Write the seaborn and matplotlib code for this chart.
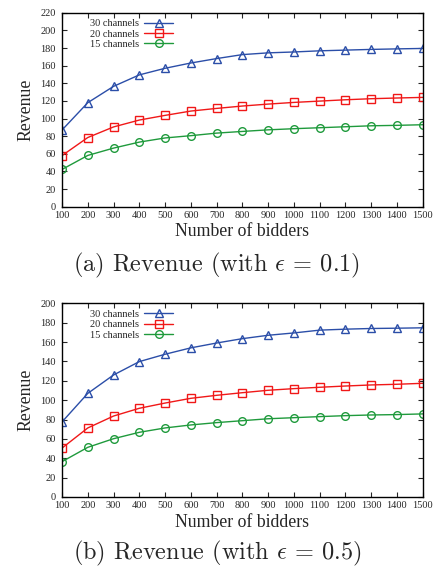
import numpy as np
import pandas as pd
import matplotlib
matplotlib.use('Agg')
import matplotlib.pyplot as plt
import seaborn as sns

# Datos
bidders = [100, 200, 300, 400, 500, 600, 700, 800, 900, 1000, 1100, 1200, 1300, 1400, 1500]

# (a) epsilon = 0.1
rev_a_30 = [87, 118, 136.5, 149.5, 157, 163, 168, 172.5, 174.5, 175.5, 176.8, 177.6, 178.4, 179, 179.5]
rev_a_20 = [58, 78.5, 90.5, 98.3, 103.6, 108.5, 111.5, 114.2, 116.4, 118.3, 119.8, 121.3, 122.5, 123.3, 124]
rev_a_15 = [42.3, 58.2, 66.5, 73.3, 78, 80.6, 83.5, 85.4, 87.2, 88.5, 89.6, 90.7, 91.8, 92.3, 93]

# (b) epsilon = 0.5
rev_b_30 = [77.5, 107, 126, 139.8, 147.4, 154, 159, 163.5, 167, 169.4, 172.3, 173.3, 174, 174.3, 174.7]
rev_b_20 = [50.5, 71.3, 83.6, 91.6, 97, 101.9, 105, 107.7, 110.2, 111.9, 113.3, 114.6, 115.7, 116.4, 117.4]
rev_b_15 = [36.5, 51.3, 60.2, 66.8, 71.3, 74.4, 76.8, 78.8, 80.8, 81.9, 83, 84, 84.7, 85.1, 85.8]

series_names = ['30 channels', '20 channels', '15 channels']
colores = ['#2b4ea8', '#f01818', '#1f9a3c']
marcadores = ['^', 's', 'o']

sns.set_style('ticks')
plt.rcParams['font.family'] = ['Liberation Serif', 'DejaVu Serif']
plt.rcParams['mathtext.fontset'] = 'cm'

fig = plt.figure(figsize=(4.34, 5.68), dpi=100)
ax_a = fig.add_axes([0.1429, 0.636, 0.831, 0.3416])
ax_b = fig.add_axes([0.1429, 0.125, 0.831, 0.341])


def dibujar(ax, valores, ymax, caption, ycap):
    for nombre, vals, col, mk in zip(series_names, valores, colores, marcadores):
        df = pd.DataFrame({'bidders': bidders, 'revenue': vals})
        sns.lineplot(data=df, x='bidders', y='revenue', ax=ax, color=col, lw=1.0,
                     marker=mk, markersize=5.5, markerfacecolor='none',
                     markeredgecolor=col, markeredgewidth=1.0, label=nombre)
    ax.set_xlim(100, 1500)
    ax.set_ylim(0, ymax)
    ax.set_xticks(bidders)
    ax.set_yticks(np.arange(0, ymax + 1, 20))
    ax.tick_params(direction='in', top=True, right=True, length=3.5, width=0.8,
                   labelsize=7.5)
    ax.tick_params(axis='x', pad=3)
    ax.tick_params(axis='y', pad=4.5)
    for s in ax.spines.values():
        s.set_linewidth(1.0)
        s.set_color('black')
    ax.set_xlabel('Number of bidders', fontsize=12.8, labelpad=2.5)
    ax.set_ylabel('Revenue', fontsize=12.8, labelpad=4)
    ax.legend(loc='upper left', bbox_to_anchor=(0.06, 1.0), frameon=False,
              fontsize=7.5, markerfirst=False, handlelength=2.8,
              labelspacing=0.1, borderaxespad=0.2, handletextpad=0.5)
    fig.text(0.5, ycap, caption, ha='center', va='center', fontsize=17.5,
             family='cmr10')


dibujar(ax_a, [rev_a_30, rev_a_20, rev_a_15], 220,
        r'(a) Revenue (with $\epsilon$ = 0.1)', 0.533)
dibujar(ax_b, [rev_b_30, rev_b_20, rev_b_15], 200,
        r'(b) Revenue (with $\epsilon$ = 0.5)', 0.026)

fig.savefig('out.png', dpi=100, facecolor='white')
